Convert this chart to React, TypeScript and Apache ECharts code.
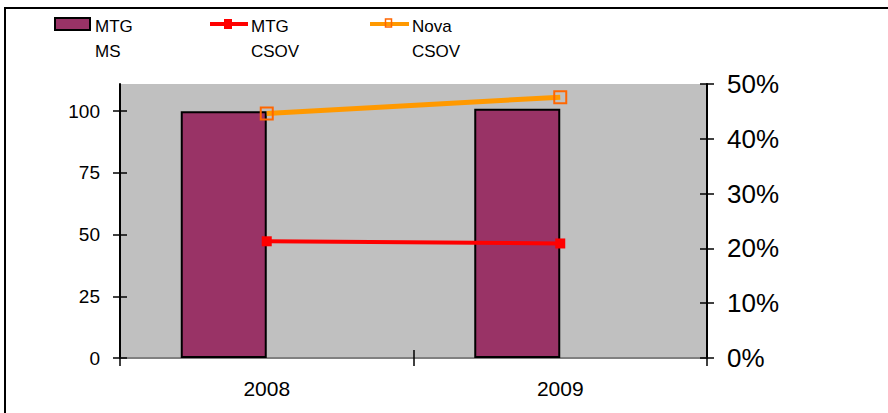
import React, { useEffect, useRef } from "react";
import * as echarts from "echarts";

// Years on the category axis
const years = ["2008", "2009"];
// MTG market share (left axis, index)
const mtgMs = [100, 101];
// MTG CSOV (right axis, share)
const mtgCsov = [0.213, 0.209];
// Nova CSOV (right axis, share)
const novaCsov = [0.446, 0.476];
// Tick values on the left axis
const leftTicks = [0, 25, 50, 75, 100];

const FONT = "'Liberation Sans', Arial, Helvetica, sans-serif";

export default function App() {
  const ref = useRef<HTMLDivElement>(null);

  useEffect(() => {
    if (!ref.current) return;
    const chart = echarts.init(ref.current, undefined, { renderer: "svg" });

    const tickStyle = { color: "#000", width: 1.5 };

    const legendText = (x: number, lines: string[]) => ({
      type: "text",
      x,
      y: 14,
      style: {
        text: lines.join("\n"),
        font: `17px ${FONT}`,
        lineHeight: 25,
        fill: "#000",
      },
    });

    chart.setOption({
      animation: false,
      backgroundColor: "#fff",
      textStyle: { fontFamily: FONT },
      grid: {
        left: 120,
        right: 181,
        top: 84,
        bottom: 55,
        show: true,
        backgroundColor: "#C0C0C0",
        borderWidth: 0,
      },
      xAxis: [
        {
          type: "category",
          data: years,
          position: "bottom",
          axisLine: { lineStyle: { color: "#333", width: 1.5 } },
          axisTick: { show: true, alignWithLabel: false, length: 8, lineStyle: tickStyle },
          axisLabel: { color: "#000", fontSize: 21, margin: 20, fontFamily: FONT },
          splitLine: { show: false },
        },
        {
          type: "category",
          data: years,
          position: "bottom",
          axisLine: { show: false },
          axisTick: { show: true, inside: true, length: 8, lineStyle: tickStyle },
          axisLabel: { show: false },
          splitLine: { show: false },
        },
        {
          type: "category",
          data: years,
          position: "top",
          axisLine: { lineStyle: { color: "#808080", width: 2 } },
          axisTick: { show: false },
          axisLabel: { show: false },
          splitLine: { show: false },
        },
      ],
      yAxis: [
        {
          type: "value",
          min: 0,
          max: 111,
          interval: 25,
          position: "left",
          axisLine: { show: true, lineStyle: { color: "#000", width: 2 } },
          axisTick: { show: true, length: 7, lineStyle: tickStyle, customValues: leftTicks },
          axisLabel: { color: "#000", fontSize: 19, margin: 20, fontFamily: FONT, customValues: leftTicks },
          splitLine: { show: false },
        },
        {
          type: "value",
          min: 0,
          max: 0.5,
          interval: 0.1,
          position: "right",
          axisLine: { show: true, lineStyle: { color: "#000", width: 2 } },
          axisTick: { show: true, length: 7, lineStyle: tickStyle },
          axisLabel: {
            color: "#000",
            fontSize: 26,
            margin: 20,
            fontFamily: FONT,
            formatter: (v: number) => `${Math.round(v * 100)}%`,
          },
          splitLine: { show: false },
        },
        {
          type: "value",
          min: 0,
          max: 111,
          interval: 25,
          position: "left",
          axisLine: { show: false },
          axisTick: { show: true, inside: true, length: 7, lineStyle: tickStyle, customValues: leftTicks },
          axisLabel: { show: false },
          splitLine: { show: false },
        },
        {
          type: "value",
          min: 0,
          max: 0.5,
          interval: 0.1,
          position: "right",
          axisLine: { show: false },
          axisTick: { show: true, inside: true, length: 7, lineStyle: tickStyle },
          axisLabel: { show: false },
          splitLine: { show: false },
        },
      ],
      series: [
        {
          name: "MTG MS",
          type: "bar",
          data: mtgMs,
          xAxisIndex: 0,
          yAxisIndex: 0,
          barWidth: 86,
          barGap: "0%",
          itemStyle: { color: "#993366", borderColor: "#000", borderWidth: 2 },
          z: 2,
        },
        {
          // empty companion slot, keeps the bars left of the category centre
          name: "slot",
          type: "bar",
          data: [],
          xAxisIndex: 0,
          yAxisIndex: 0,
          barWidth: 86,
          barGap: "0%",
        },
        {
          name: "MTG CSOV",
          type: "line",
          data: mtgCsov,
          xAxisIndex: 0,
          yAxisIndex: 1,
          symbol: "rect",
          symbolSize: 10,
          lineStyle: { color: "#FF0000", width: 4 },
          itemStyle: { color: "#FF0000" },
          z: 3,
        },
        {
          name: "Nova CSOV",
          type: "line",
          data: novaCsov,
          xAxisIndex: 0,
          yAxisIndex: 1,
          symbol: "rect",
          symbolSize: 12,
          lineStyle: { color: "#FF9900", width: 5 },
          itemStyle: { color: "rgba(0,0,0,0)", borderColor: "#FF6600", borderWidth: 2 },
          z: 3,
        },
      ],
      graphic: [
        // outer frame
        {
          type: "rect",
          shape: { x: 5, y: 8, width: 900, height: 420 },
          style: { fill: "none", stroke: "#000", lineWidth: 2 },
          silent: true,
        },
        // legend: MTG MS
        {
          type: "rect",
          shape: { x: 55, y: 18, width: 35, height: 12 },
          style: { fill: "#993366", stroke: "#000", lineWidth: 2 },
        },
        legendText(95, ["MTG", "MS"]),
        // legend: MTG CSOV
        {
          type: "line",
          shape: { x1: 210, y1: 24, x2: 248, y2: 24 },
          style: { stroke: "#FF0000", lineWidth: 4 },
        },
        {
          type: "rect",
          shape: { x: 224, y: 19, width: 8, height: 10 },
          style: { fill: "#FF0000" },
        },
        legendText(251, ["MTG", "CSOV"]),
        // legend: Nova CSOV
        {
          type: "line",
          shape: { x1: 370, y1: 24, x2: 409, y2: 24 },
          style: { stroke: "#FF9900", lineWidth: 4 },
        },
        {
          type: "rect",
          shape: { x: 385.5, y: 19, width: 6, height: 8 },
          style: { fill: "none", stroke: "#FF6600", lineWidth: 1.5 },
        },
        legendText(412, ["Nova", "CSOV"]),
      ],
    });

    return () => chart.dispose();
  }, []);

  return (
    <div
      ref={ref}
      style={{ position: "fixed", left: 0, top: 0, width: 888, height: 413 }}
    />
  );
}
